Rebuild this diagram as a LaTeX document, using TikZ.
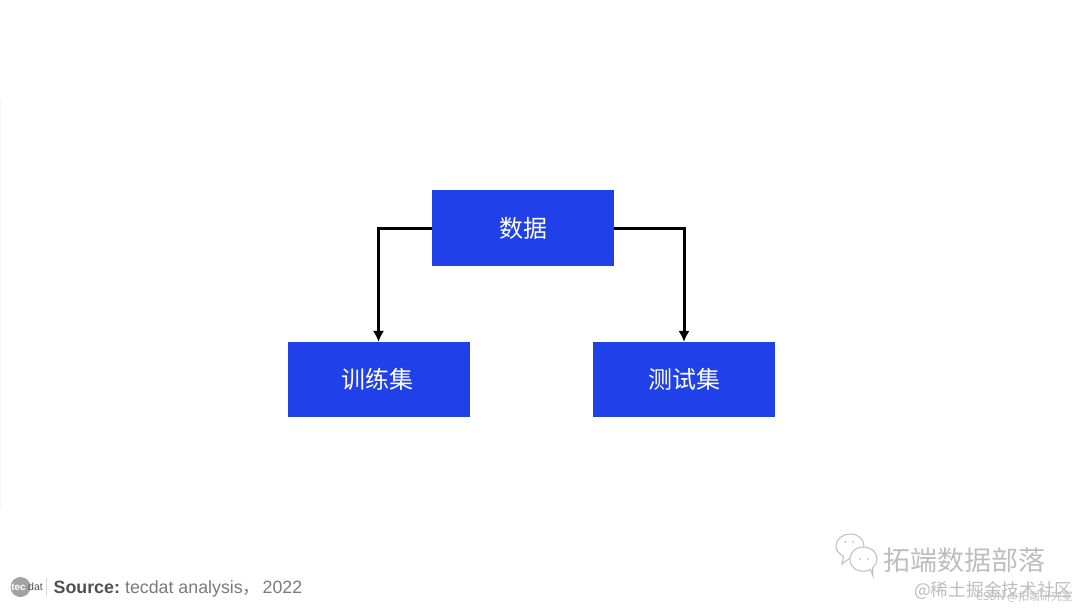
\documentclass[tikz,border=0pt]{standalone}
\usepackage{fontspec}
\setmainfont{Liberation Sans}
\newfontfamily\cjk{Noto Sans CJK SC}
\definecolor{boxblue}{HTML}{2040EA}
\definecolor{srcdark}{HTML}{505050}
\definecolor{srcgray}{HTML}{7A7A7A}
\definecolor{wm}{HTML}{BDBDBD}
\tikzset{
  px/.style={x=1pt,y=-1pt},
  bluebox/.style={draw=none,fill=boxblue,minimum width=182pt,minimum height=75.5pt,inner sep=0pt,text=white,font=\cjk\fontsize{24}{28}\selectfont},
  conn/.style={draw=black,line width=3pt,-{Latex[length=11pt,width=11.5pt]}},
  bubble/.style={draw=wm,line width=1pt,fill=white},
}
\usetikzlibrary{arrows.meta}
\begin{document}
\begin{tikzpicture}[px]
\useasboundingbox (0,0) rectangle (1080,608);
\draw[draw=black!4,line width=0.8pt] (0.5,100) -- (0.5,508);
\node[bluebox] (data) at (523,228) {数据};
\node[bluebox] (train) at (378.5,379.7) {\hspace{-2pt}\raisebox{2pt}{训练集}};
\node[bluebox] (test) at (684,379.7) {测试集};
\draw[conn] (data.west) -| (train.north);
\draw[conn] (data.east) -| (test.north);
% logo
\node[circle,fill=srcgray!70,minimum size=20pt,inner sep=0pt] (logo) at (20.5,587) {};
\node[anchor=center,inner sep=0pt,text=white,font=\bfseries\fontsize{10}{11}\selectfont] (tec) at (18.5,587) {tec};
\node[anchor=west,inner sep=0pt,text=srcdark,font=\fontsize{10.5}{11}\selectfont] (dat) at (28,587) {dat};
\coordinate (s1) at (46.5,578);
\coordinate (s2) at (46.5,596);
\draw[draw=black!15,line width=0.8pt] (s1) -- (s2);
\node[anchor=west,inner sep=0pt,font=\fontsize{17.8}{20}\selectfont,text=srcgray] (src) at (53.5,589.3) {\textcolor{srcdark}{\textbf{Source:}}\hspace{-1.5pt} tecdat analysis{\cjk，}\hspace{2pt}2022};
% watermark
\draw[bubble] (842,564) -- (843.5,556.5) .. controls (838,553) and (836,550) .. (836,546) .. controls (836,539) and (843,534) .. (850,534) .. controls (858,534) and (864,539) .. (864,546) .. controls (864,552) and (858,558) .. (850,558) -- cycle;
\draw[bubble] (873,576) -- (870.5,569.5) .. controls (866,571.5) and (863,571.5) .. (861,571) .. controls (852,570) and (850,563) .. (850,559) .. controls (850,552) and (856,547) .. (863,547) .. controls (871,547) and (877,552) .. (877,559) .. controls (877,563) and (875,566) .. (872.5,568) -- cycle;
\fill[wm] (860,559) circle (1pt) (868,559) circle (1pt) (845,542) circle (1pt) (853,542) circle (1pt);
\node[anchor=west,inner sep=0pt,text=wm,font=\cjk\fontsize{27}{30}\selectfont] (wm1) at (883,560) {拓端数据部落};
\node[anchor=west,inner sep=0pt,text=wm,font=\cjk\fontsize{17.7}{20}\selectfont] (wm2) at (914,591) {@稀土掘金技术社区};
\node[anchor=east,inner sep=0pt,text=wm,font=\cjk\fontsize{11}{12}\selectfont] (wm3) at (1073,597) {CSDN @拓端研究室};
\end{tikzpicture}
\end{document}
